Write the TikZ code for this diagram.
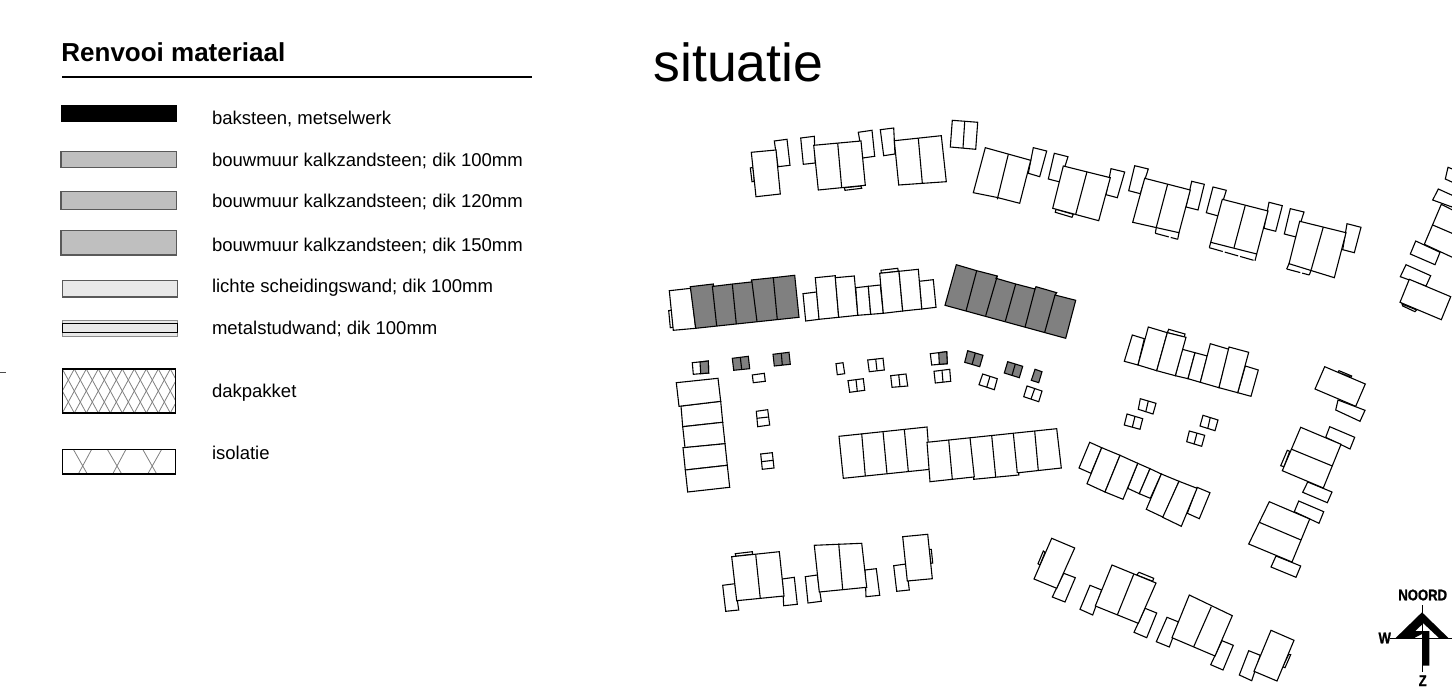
\documentclass[tikz,border=0pt]{standalone}
\usepackage{fontspec}
\setmainfont{Liberation Sans}
\newfontfamily\compassfont[FakeBold=1.2]{Liberation Sans Bold}
\tikzset{
 bld/.style={draw=black,fill=white,line width=0.55pt,line join=miter},
 dark/.style={draw=black,fill=black!50,line width=0.55pt},
 ln/.style={draw=black,line width=0.55pt},
 lgtext/.style={anchor=base west,font=\fontsize{9.26pt}{11pt}\selectfont,inner sep=0pt,outer sep=0pt},
 swatch/.style={draw=black!65,fill=black!25,line width=0.6pt},
 thin gray/.style={draw=black!50,line width=0.4pt},
 compass/.style={font=\fontsize{7.7pt}{9pt}\compassfont,inner sep=0pt,outer sep=0pt,xscale=0.85,transform shape}
}
\begin{document}
\begin{tikzpicture}[x=0.5pt,y=-0.5pt]
\useasboundingbox (0,0) rectangle (1452,700);
% --- legend
\node[anchor=base west,font=\fontsize{13pt}{15pt}\bfseries\selectfont,inner sep=0pt] (title) at (61,62) {Renvooi materiaal};
\draw[black,line width=0.65pt] (62,77) -- (532,77);
\draw[black!70,line width=0.5pt] (0,373) -- (6,373);
\fill[black] (60.7,105) rectangle (176.7,122);
\draw[swatch] (61,151.7) rectangle (176.3,167.3);
\draw[swatch] (61,191.3) rectangle (176.3,209.3);
\draw[swatch] (61,230.7) rectangle (176.3,255);
\draw[swatch,fill=black!9] (62.3,280.7) rectangle (177.7,297);
\draw[black!45,fill=black!9,line width=0.5pt] (62.3,320.3) rectangle (177.7,336.3);
\draw[black,line width=0.55pt] (62.3,323.5) -- (177.7,323.5) (62.3,332.5) -- (177.7,332.5) (62.3,323.5) -- (62.3,332.5) (177.7,323.5) -- (177.7,332.5);
\begin{scope}
\clip (62.3,369) rectangle (175.7,413);
\foreach \i in {-3,...,10}{
 \draw[thin gray] (62.3+12*\i,369) -- (62.3+12*\i+24,413);
 \draw[thin gray] (62.3+12*\i+24,369) -- (62.3+12*\i,413);
}
\end{scope}
\draw[black,line width=0.7pt] (62.3,369) rectangle (175.7,413);
\draw[thin gray] (73.3,449.3) -- (87.3,474) (91.7,449.3) -- (78.3,474) (107.3,449.3) -- (121.7,474) (126,449.3) -- (112.7,474) (142.7,449.3) -- (156.7,474) (161.7,449.3) -- (147.7,474);
\draw[black,line width=0.6pt] (62.3,449.3) rectangle (175.7,474);
\node[lgtext] (t1) at (212,125) {baksteen, metselwerk};
\node[lgtext] (t2) at (212,166.5) {bouwmuur kalkzandsteen; dik 100mm};
\node[lgtext] (t3) at (212,208) {bouwmuur kalkzandsteen; dik 120mm};
\node[lgtext] (t4) at (212,251.5) {bouwmuur kalkzandsteen; dik 150mm};
\node[lgtext] (t5) at (212,293) {lichte scheidingswand; dik 100mm};
\node[lgtext] (t6) at (212,335) {metalstudwand; dik 100mm};
\node[lgtext] (t7) at (212,397.5) {dakpakket};
\node[lgtext] (t8) at (212,459.5) {isolatie};
\node[anchor=base west,font=\fontsize{26.8pt}{30pt}\selectfont,inner sep=0pt] (sit) at (653,82) {situatie};
% --- top row
\draw[bld] (774.3,141) -- (787,139.3) -- (790,165.3) -- (778,166.7) -- cycle;
\draw[bld] (750.3,168) -- (753,167.3) -- (754.3,181.3) -- (752,181.7) -- cycle;
\draw[bld] (751.3,152.3) -- (776,150) -- (780.3,194) -- (756,196.7) -- cycle;
\draw[bld] (800.7,138) -- (814.3,136.3) -- (815.3,163) -- (803.3,164.3) -- cycle;
\draw[bld] (858.3,132.3) -- (872,130.3) -- (874.7,156.3) -- (862.7,158) -- cycle;
\draw[bld] (844.3,187.7) -- (861,186) -- (861.7,188.3) -- (845,190.3) -- cycle;
\draw[bld] (813.7,145.3) -- (861,141) -- (865.3,185.3) -- (818.3,190) -- cycle;
\draw[ln] (837.7,143.3) -- (841.7,187.7);
\draw[bld] (880.3,129.7) -- (893.7,128) -- (895,154) -- (883.7,155.7) -- cycle;
\draw[bld] (894.3,140.7) -- (941.3,135.7) -- (946.3,181.7) -- (898.7,185) -- cycle;
\draw[ln] (918.3,138.3) -- (922.3,183);
\draw[bld] (952.3,120.3) -- (977.7,122.3) -- (975.7,149.3) -- (950.3,147) -- cycle;
\draw[ln] (964.7,121.7) -- (963,148);
\draw[bld] (1033.3,147.7) -- (1046.7,151) -- (1039.7,176.7) -- (1028.3,173.3) -- cycle;
\draw[bld] (985.3,147.7) -- (1030.7,160.3) -- (1019.7,203.3) -- (997.3,197.5) -- (973.3,192.7) -- cycle;
\draw[ln] (1008.3,154.3) -- (997.3,199.3);
\draw[bld] (1054.3,153.3) -- (1068,156.7) -- (1060,182) -- (1048.3,179) -- cycle;
\draw[bld] (1111,168.7) -- (1124.7,172) -- (1117.3,197.7) -- (1106,194.7) -- cycle;
\draw[bld] (1056,209.3) -- (1073.3,214.3) -- (1072,217.3) -- (1055.3,212.3) -- cycle;
\draw[bld] (1063.3,166) -- (1110.3,177.7) -- (1098.7,220.7) -- (1052.7,208.3) -- cycle;
\draw[ln] (1087,171.7) -- (1075.7,214.3);
\draw[bld] (1134.7,165.7) -- (1148.3,169) -- (1140.3,193.7) -- (1128.7,190.7) -- cycle;
\draw[bld] (1191.7,181.3) -- (1204.3,184.3) -- (1198,210) -- (1186,207) -- cycle;
\draw[bld] (1144.7,178.3) -- (1190.3,190) -- (1179,232.7) -- (1132.7,222.3) -- cycle;
\draw[ln] (1167.7,184) -- (1156.3,227.3);
\draw[ln] (1156.3,227.3) -- (1155.3,233.3) (1177.7,239.3) -- (1179,232.7);
\draw[ln,dash pattern=on 7pt off 1pt] (1155.3,233.3) -- (1177.7,239.3);
\draw[bld] (1213,187) -- (1226.3,190.3) -- (1218.3,216) -- (1206.3,212.7) -- cycle;
\draw[bld] (1269,202.3) -- (1282.3,205.7) -- (1275.7,231.3) -- (1264,228.3) -- cycle;
\draw[bld] (1222.3,199.3) -- (1268,211) -- (1256.7,254) -- (1210.7,242.3) -- cycle;
\draw[ln] (1245.3,205.3) -- (1234,247.7);
\draw[ln] (1210.7,242.3) -- (1209.3,247.7) (1255,260.7) -- (1256.7,254);
\draw[ln,dash pattern=on 7pt off 1pt] (1209.3,247.7) -- (1255,260.7);
\draw[bld] (1290.3,208.7) -- (1304,212) -- (1296,237) -- (1284.3,234) -- cycle;
\draw[bld] (1347,223.7) -- (1361,227.3) -- (1354.3,252.7) -- (1342.7,249.7) -- cycle;
\draw[bld] (1299.7,221.3) -- (1346,232.7) -- (1334.3,277.7) -- (1289,263.7) -- cycle;
\draw[ln] (1323.3,227) -- (1311.3,269.3);
\draw[ln] (1289,263.7) -- (1286.7,269) (1309.3,275) -- (1311.3,269.3);
\draw[ln,dash pattern=on 7pt off 1pt] (1286.7,269) -- (1309.3,275);
% --- far right
\draw[bld] (1448,167.3) -- (1445.3,179) -- (1454,183) -- (1460,172) -- cycle;
\draw[bld] (1438.3,189) -- (1456,197) -- (1452,207) -- (1432.7,200) -- cycle;
\draw[bld] (1441.3,204.3) -- (1424.3,244.3) -- (1456,259) -- (1472,220) -- cycle;
\draw[ln] (1432.7,225) -- (1456,235);
\draw[bld] (1415.7,241) -- (1440,252.3) -- (1435,264.7) -- (1410.3,254) -- cycle;
\draw[bld] (1406,264.7) -- (1430.7,275.7) -- (1426,286) -- (1400.3,276.7) -- cycle;
\draw[bld] (1402,304) -- (1416.7,310) -- (1415,311.7) -- (1402.7,306) -- cycle;
\draw[bld] (1409.3,279.3) -- (1450.7,296.7) -- (1441.3,319.7) -- (1400,302.3) -- cycle;
% --- second row
\draw[bld] (668.7,310.7) -- (671.7,310) -- (673.3,327.3) -- (670.3,327.7) -- cycle;
\draw[bld] (669.3,290.7) -- (691,288.3) -- (695.7,328.3) -- (673.3,330.3) -- cycle;
\draw[dark] (690.3,286.7) -- (713.3,284) -- (713.7,286.3) -- (732.7,284) -- (751.3,282) -- (751.3,280) -- (773.3,277.7) -- (794.7,275.3) -- (799,317.3) -- (695.7,328.3) -- cycle;
\draw[ln] (712.3,285.7) -- (716.7,326) (732.3,284) -- (736.3,324) (751.7,280) -- (757,321.7) (773.3,277.7) -- (777.3,319.7);
\draw[bld] (803,293.7) -- (816.7,292) -- (819.3,319.3) -- (805.7,321) -- cycle;
\draw[bld] (855.7,287.7) -- (868.3,286.3) -- (870.7,314.3) -- (857.7,315.3) -- cycle;
\draw[bld] (868.3,286.3) -- (880.3,285) -- (883.3,313.3) -- (870.7,314.3) -- cycle;
\draw[bld] (919.3,281.3) -- (933.3,279.7) -- (936,307.3) -- (921.7,309) -- cycle;
\draw[bld] (815.3,277.7) -- (835.3,275.7) -- (838.7,317.3) -- (819,319.3) -- cycle;
\draw[bld] (835.3,277.7) -- (854.3,276) -- (857.7,315.3) -- (838.7,317.3) -- cycle;
\draw[bld] (881,270.3) -- (897.7,268.3) -- (898.3,271.3) -- (881.3,273.3) -- cycle;
\draw[bld] (879.7,273.3) -- (899,271.3) -- (902.7,311) -- (883.3,313.3) -- cycle;
\draw[bld] (899,271.3) -- (918.3,269.3) -- (921.7,309) -- (902.7,311) -- cycle;
\draw[dark] (956.3,264.7) -- (976.7,270.7) -- (997.3,276) -- (996,278.3) -- (1015.7,284) -- (1035,289) -- (1036,286.7) -- (1056.7,292.7) -- (1055,295) -- (1075.7,300.3) -- (1065.7,338.3) -- (945,305.3) -- cycle;
\draw[ln] (976.7,270.7) -- (966,311) (997.3,276) -- (985.7,315.7) (1015.7,284) -- (1005.3,321.3) (1035,289) -- (1025,327.3) (1055,295) -- (1044.7,332.3);
% --- sheds
\draw[bld] (692.3,362.7) -- (708.3,361) -- (708.7,373) -- (693.3,374.3) -- cycle;
\draw[dark] (700,362) -- (708.3,361) -- (708.7,373) -- (700.7,373.7) -- cycle;
\draw[dark] (732.3,358.3) -- (748.3,356.3) -- (749.7,368.7) -- (733.7,370.3) -- cycle;
\draw[ln] (740.3,357.3) -- (741.7,369.3);
\draw[dark] (773,354.3) -- (789,352.3) -- (790.3,364.3) -- (774.3,366) -- cycle;
\draw[ln] (781.3,353.3) -- (782.3,365);
\draw[bld] (752.3,375) -- (764.3,373.3) -- (765.3,381.3) -- (753.3,382.7) -- cycle;
\draw[bld] (681,406) -- (720.7,401.3) -- (722.7,422.3) -- (682.7,426.7) -- cycle;
\draw[bld] (682.7,426.7) -- (722.7,422.3) -- (725,443.7) -- (685,447.7) -- cycle;
\draw[bld] (676.3,382.7) -- (718,378.3) -- (720.7,401.3) -- (679,406.3) -- cycle;
\draw[bld] (683,447.7) -- (725,443.7) -- (727.3,465.3) -- (685.3,470) -- cycle;
\draw[bld] (685.3,470) -- (727.3,465.3) -- (729.7,487.3) -- (687.7,492) -- cycle;
\draw[bld] (756.3,411.3) -- (767.7,409.7) -- (769.7,425) -- (757.7,426.7) -- cycle;
\draw[ln] (757,418.3) -- (768.7,417);
\draw[bld] (760.7,454) -- (772.3,452.7) -- (774,468) -- (762.3,469.3) -- cycle;
\draw[ln] (761.3,461.7) -- (773.3,460.3);
\draw[bld] (836,363.7) -- (843,362.7) -- (844.7,373.7) -- (837.3,374.7) -- cycle;
\draw[bld] (867.7,360) -- (883,358.3) -- (884.3,370) -- (869.3,371.7) -- cycle;
\draw[ln] (875.7,359) -- (877,370.7);
\draw[bld] (848,380.7) -- (863.3,378.7) -- (864.7,390.3) -- (849.7,392.3) -- cycle;
\draw[ln] (856,379.7) -- (857.3,391.3);
\draw[bld] (890.7,375.7) -- (906,374) -- (907.7,386) -- (892,387.3) -- cycle;
\draw[ln] (898.7,374.7) -- (900,386.7);
\draw[bld] (930.3,353.7) -- (946.7,351.7) -- (947.3,363.7) -- (931.7,365) -- cycle;
\draw[dark] (938.7,352.7) -- (946.7,351.7) -- (947.3,363.7) -- (939.3,364.3) -- cycle;
\draw[bld] (934,371.3) -- (949.7,369.3) -- (950.7,381.3) -- (935.3,383) -- cycle;
\draw[ln] (942,370.3) -- (943,382.3);
\draw[dark] (967.7,350.7) -- (983,355.3) -- (979.7,366.7) -- (964.7,362.3) -- cycle;
\draw[ln] (975.3,353) -- (972,364.7);
\draw[bld] (982.7,374) -- (997.3,378.7) -- (994.3,389.7) -- (979,384.7) -- cycle;
\draw[ln] (990,376.3) -- (986.7,387.3);
\draw[dark] (1007.7,361.7) -- (1022.7,366.3) -- (1019.3,377.7) -- (1004.3,373) -- cycle;
\draw[ln] (1015.3,364) -- (1012,375.3);
\draw[dark] (1035,369.3) -- (1042,371.7) -- (1038.7,382.7) -- (1031.3,380.3) -- cycle;
\draw[bld] (1027,386) -- (1042,391) -- (1038.7,401.7) -- (1023.7,396.7) -- cycle;
\draw[ln] (1034.7,388.7) -- (1031,399);
% --- long row
\draw[bld] (839,436.3) -- (927,427) -- (930.3,469.3) -- (843.3,478.3) -- cycle;
\draw[ln] (861.7,433.7) -- (865.3,476) (883,431.3) -- (887,473.7) (904.3,429.3) -- (908.3,471.3);
\draw[bld] (927,442.3) -- (1056.7,428.7) -- (1061.3,468) -- (1018.7,472.7) -- (1018.7,475) -- (973.7,479.3) -- (973.7,477) -- (930,481.7) -- cycle;
\draw[ln] (948.7,440) -- (952.3,479.3) (970,437.7) -- (974.3,477) (991.7,435.7) -- (995.7,477) (1013.3,433.3) -- (1017.3,473) (1034.7,431) -- (1038.3,470.7);
% --- cluster J
\draw[bld] (1132.3,335) -- (1144.3,338.7) -- (1138,365) -- (1124.3,361.3) -- cycle;
\draw[bld] (1182.3,349.3) -- (1195,352.7) -- (1188,378.7) -- (1175.3,375.7) -- cycle;
\draw[bld] (1195,352.7) -- (1207.3,356) -- (1200.3,382.3) -- (1188,378.7) -- cycle;
\draw[bld] (1245.3,366) -- (1258.3,370) -- (1251,396.3) -- (1237.7,392.7) -- cycle;
\draw[bld] (1148.3,327) -- (1167.3,332.7) -- (1156.7,370.7) -- (1138,365) -- cycle;
\draw[bld] (1168.7,329.3) -- (1185,334) -- (1184.3,337) -- (1167.3,332.7) -- cycle;
\draw[bld] (1167.3,332.7) -- (1186,337.3) -- (1175.3,375.7) -- (1156.7,370.7) -- cycle;
\draw[bld] (1210.3,343.7) -- (1229,349.3) -- (1219,387.7) -- (1200.3,382.3) -- cycle;
\draw[bld] (1229,347) -- (1248.7,352.3) -- (1237.7,392.7) -- (1219,387.7) -- cycle;
\draw[bld] (1140.3,398.7) -- (1156,403.3) -- (1153,414) -- (1138.3,409.3) -- cycle;
\draw[ln] (1148.3,401) -- (1145.7,412);
\draw[bld] (1127,414) -- (1142.7,418.7) -- (1140,429.3) -- (1124.3,425) -- cycle;
\draw[ln] (1135,416.3) -- (1132.3,427.3);
\draw[bld] (1203,415.3) -- (1218,420) -- (1215,430.7) -- (1200,426) -- cycle;
\draw[ln] (1210.3,417.3) -- (1207.7,428.7);
\draw[bld] (1189.3,431) -- (1204.7,435.3) -- (1201.7,446.3) -- (1186.7,441.7) -- cycle;
\draw[ln] (1197,433) -- (1194,444.3);
% --- cluster K
\draw[bld] (1089.7,442.3) -- (1101.7,447.7) -- (1091,473.3) -- (1079,468) -- cycle;
\draw[bld] (1137.7,463.3) -- (1150,468.7) -- (1139.3,493.7) -- (1127.7,488.3) -- cycle;
\draw[bld] (1150,468.7) -- (1161.3,474) -- (1150.3,498.3) -- (1139.3,493.7) -- cycle;
\draw[bld] (1197,487.3) -- (1210,492.7) -- (1199.3,518.7) -- (1187.3,513.3) -- cycle;
\draw[bld] (1101.7,447.7) -- (1120,455.3) -- (1105,492) -- (1087,483.7) -- cycle;
\draw[bld] (1120,455.3) -- (1137.7,463.3) -- (1123,499.3) -- (1105,492) -- cycle;
\draw[bld] (1161.3,474) -- (1179,481.3) -- (1163.3,517.3) -- (1146.3,509.3) -- cycle;
\draw[bld] (1179,481.3) -- (1197,488.3) -- (1181.3,526.3) -- (1162.7,517.3) -- cycle;
% --- right column
\draw[bld] (1338,400) -- (1365,410.3) -- (1360,421.3) -- (1335.7,410) -- cycle;
\draw[bld] (1339,370.7) -- (1351.7,376) -- (1351,377.3) -- (1338,372.3) -- cycle;
\draw[bld] (1324.7,366.7) -- (1365.3,384) -- (1355.7,406.3) -- (1315,389) -- cycle;
\draw[bld] (1329.7,426.7) -- (1354.7,437.3) -- (1350,449) -- (1325.7,437.3) -- cycle;
\draw[bld] (1307.7,482) -- (1332,492) -- (1327.3,502.7) -- (1302.7,492.3) -- cycle;
\draw[bld] (1287.3,450.3) -- (1289.7,451.3) -- (1284,466.7) -- (1280.7,465.7) -- cycle;
\draw[bld] (1300.7,427.3) -- (1341,444.3) -- (1323.3,488) -- (1282.3,470.7) -- cycle;
\draw[ln] (1291,449) -- (1332.3,466);
\draw[bld] (1298.7,501) -- (1323.7,511.7) -- (1319,523.3) -- (1294.3,511.7) -- cycle;
\draw[bld] (1276,556) -- (1300.7,566) -- (1296,577.3) -- (1271,567) -- cycle;
\draw[bld] (1269.3,501.7) -- (1309.7,519) -- (1292,562) -- (1248.7,544) -- cycle;
\draw[ln] (1259.3,522.3) -- (1301,540);
% --- bottom-left houses
\draw[bld] (722.7,585.3) -- (735,583.7) -- (738.7,610) -- (725.7,611.3) -- cycle;
\draw[bld] (782.3,579) -- (794.3,577.3) -- (797.3,604.3) -- (783.7,605.7) -- cycle;
\draw[bld] (735.3,553.7) -- (752.3,551.7) -- (752.7,554.3) -- (735.7,556.3) -- cycle;
\draw[bld] (731.7,556.7) -- (779.3,551.7) -- (784,596) -- (736.7,600.7) -- cycle;
\draw[ln] (755.7,554.3) -- (760.3,598.7);
\draw[bld] (805.3,576.7) -- (817.3,575) -- (821.3,601.3) -- (808,603) -- cycle;
\draw[bld] (865,570) -- (876.3,568.7) -- (879.7,595.3) -- (866,596.7) -- cycle;
\draw[bld] (814.3,545.3) -- (861.7,543.3) -- (866.7,587.3) -- (819.3,592) -- cycle;
\draw[ln] (838.7,543.7) -- (842.7,589.7);
\draw[bld] (893.7,565.7) -- (906,564) -- (909.3,590) -- (896.7,591.3) -- cycle;
\draw[bld] (929,549.3) -- (931.3,549.3) -- (932.7,563) -- (930.7,563.3) -- cycle;
\draw[bld] (902.7,536.7) -- (927.7,534.3) -- (932.3,578.7) -- (907.3,581) -- cycle;
% --- bottom-right houses
\draw[bld] (1063.7,573.3) -- (1075.3,577.7) -- (1065,602) -- (1052.3,597) -- cycle;
\draw[bld] (1043.3,551) -- (1045,552.3) -- (1040,565) -- (1038,563.7) -- cycle;
\draw[bld] (1051.7,538.3) -- (1074.7,548) -- (1056.7,588.3) -- (1034,579) -- cycle;
\draw[bld] (1090,585.3) -- (1101.7,590) -- (1092.7,615) -- (1080,609.3) -- cycle;
\draw[bld] (1145,608.3) -- (1156.7,613) -- (1146.7,637.7) -- (1134,632.3) -- cycle;
\draw[bld] (1139,572.3) -- (1153.7,578.3) -- (1152.7,581.3) -- (1136.7,575) -- cycle;
\draw[bld] (1112,565) -- (1156,583) -- (1138.3,623.3) -- (1095.3,606) -- cycle;
\draw[ln] (1133.7,574.3) -- (1117.3,615);
\draw[bld] (1167,617.3) -- (1178.7,622) -- (1169.3,647) -- (1156.3,641.7) -- cycle;
\draw[bld] (1222,640.7) -- (1233.3,645.3) -- (1223,670) -- (1210.7,664.7) -- cycle;
\draw[bld] (1189.3,595) -- (1232.3,615.7) -- (1215,656) -- (1172,637.7) -- cycle;
\draw[ln] (1211.3,606.7) -- (1193.7,646.7);
\draw[bld] (1248.7,650.7) -- (1260.3,655.3) -- (1251.7,680.7) -- (1239.3,675) -- cycle;
\draw[bld] (1288.7,654.3) -- (1290.7,654.7) -- (1285,667.7) -- (1282.7,666.7) -- cycle;
\draw[bld] (1271,630.3) -- (1294,640.3) -- (1277,681) -- (1254,671.3) -- cycle;
% --- north arrow
\draw[black,line width=0.4pt] (1422,605) -- (1422,672) (1390,638.3) -- (1456,638.3);
\fill[black] (1422,612.3) -- (1448.7,638.3) -- (1439.3,638.3) -- (1423.3,623.3) -- (1415.3,631) -- (1429.3,631) -- (1429.3,665.7) -- (1422,665.7) -- (1422,634) -- (1413.7,638.3) -- (1395.3,638.3) -- cycle;
\node[compass] (noord) at (1422.7,595) {NOORD};
\node[compass] (west) at (1384.7,638) {W};
\node[compass] (zuid) at (1422.7,680.7) {Z};
\end{tikzpicture}
\end{document}
